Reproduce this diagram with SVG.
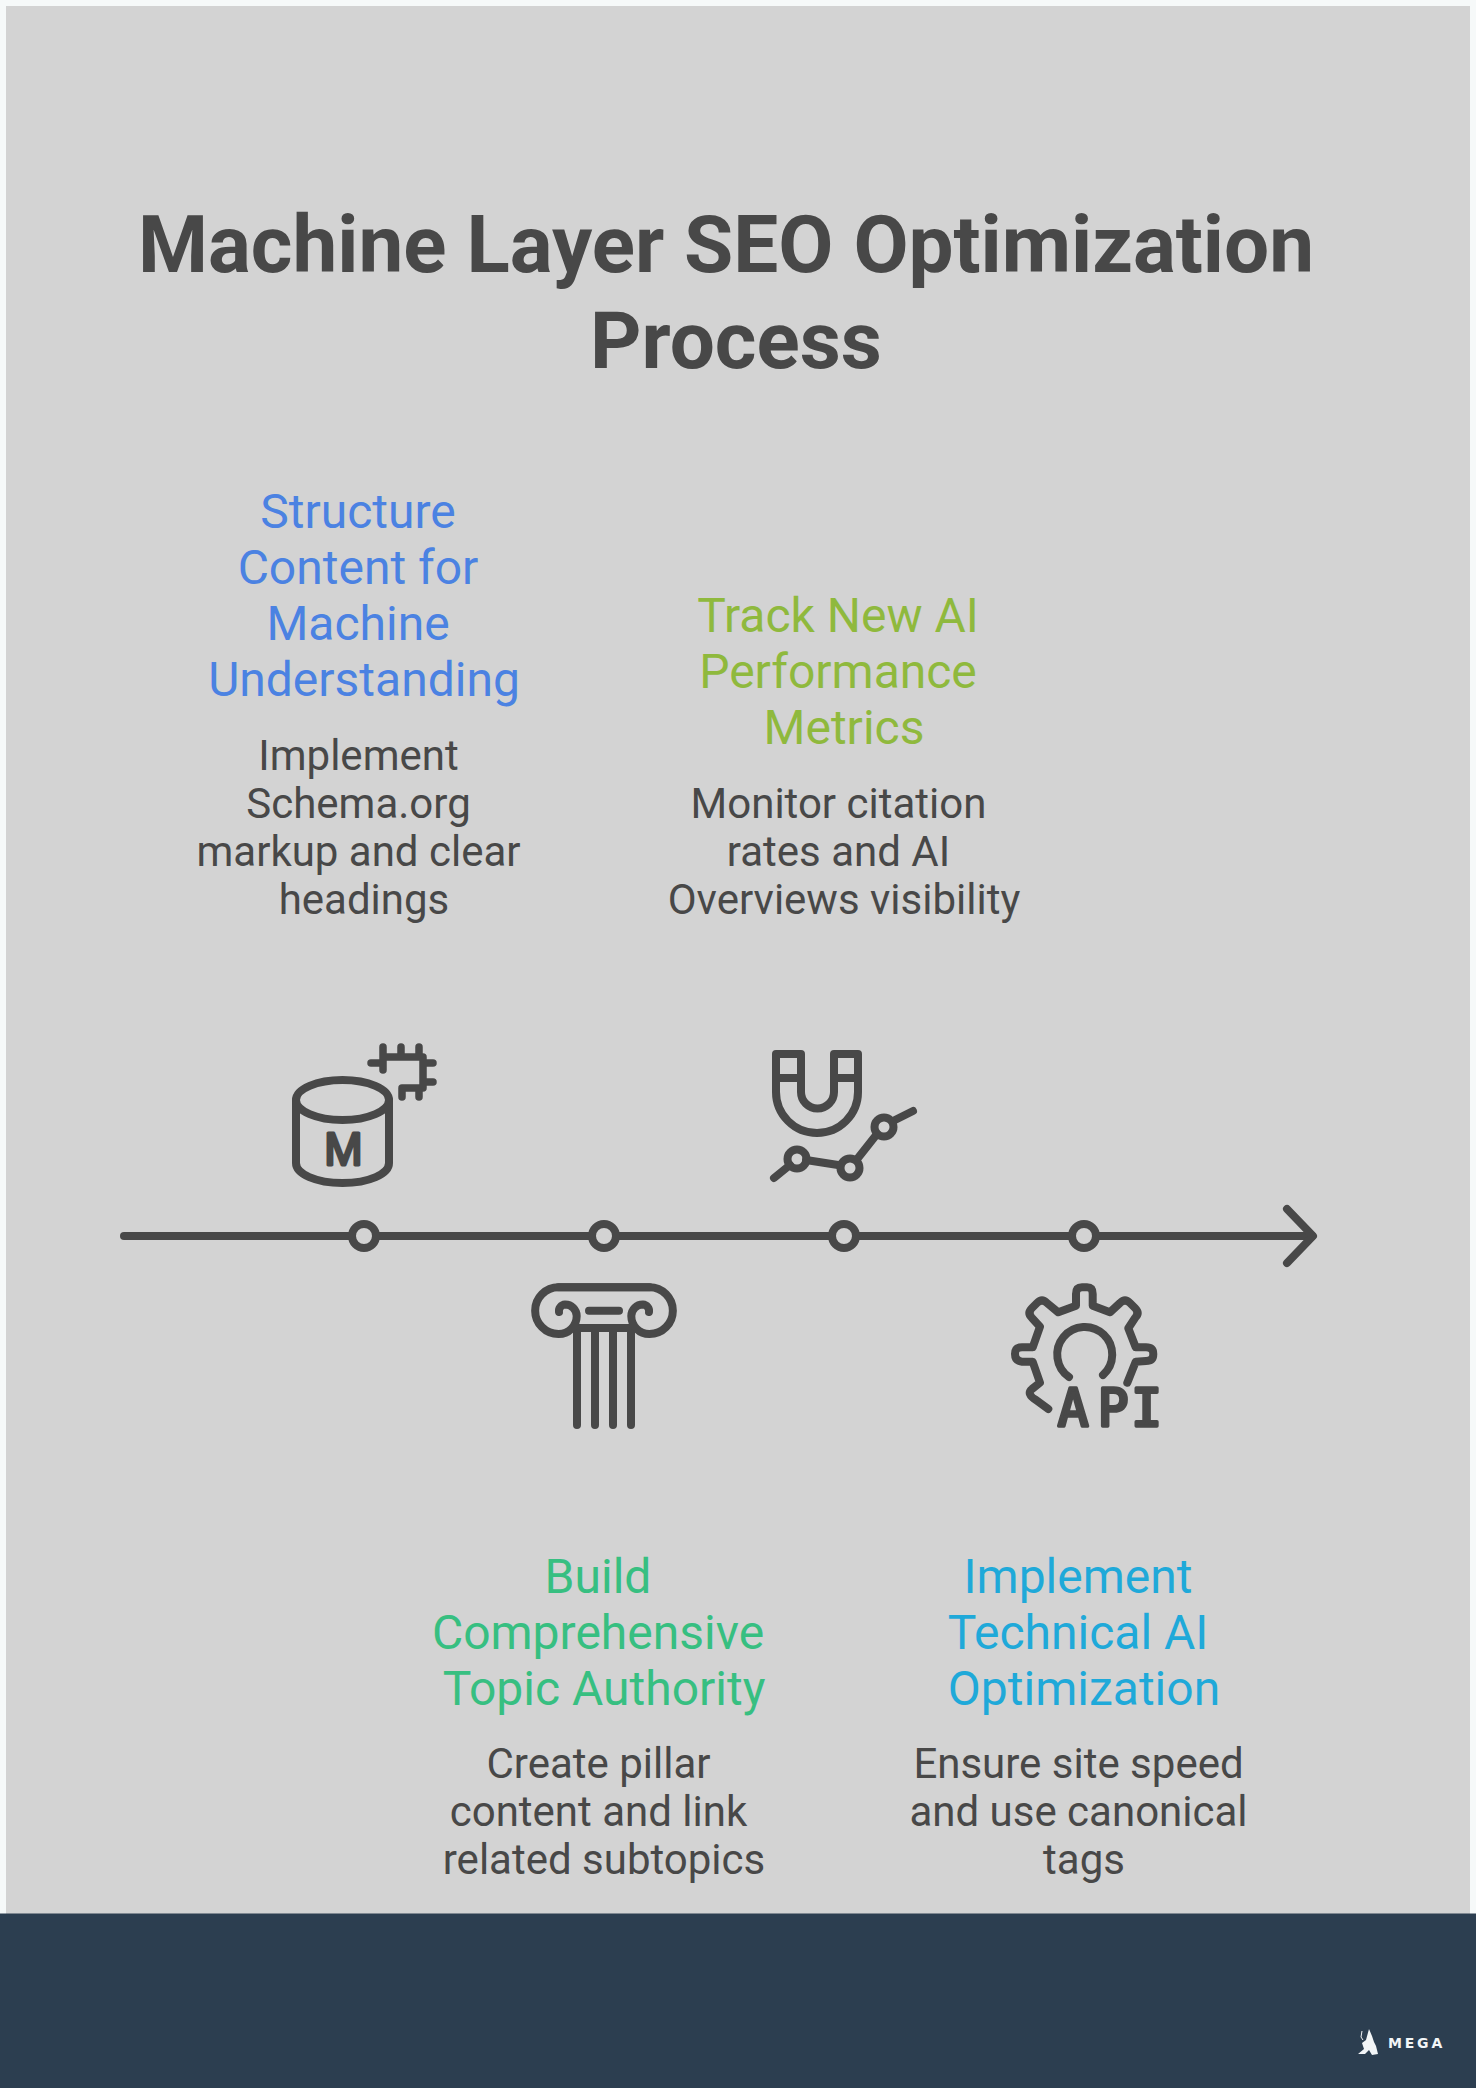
<svg xmlns="http://www.w3.org/2000/svg" width="1476" height="2088" viewBox="0 0 1476 2088">
<style>
.t{font-family:Roboto,"Liberation Sans",sans-serif;text-anchor:middle}
.title{font-size:80px;font-weight:700;fill:#484848}
.h{font-size:48px}
.d{font-size:42px;fill:#484848}
.s{fill:none;stroke:#484848;stroke-width:8;stroke-linecap:round;stroke-linejoin:round}
.s7{fill:none;stroke:#484848;stroke-width:7.500;stroke-linecap:round;stroke-linejoin:round}
.g{fill:#484848;stroke:#484848;stroke-linejoin:round;text-anchor:middle}
.dot{fill:#d3d3d3;stroke:#484848;stroke-width:8}
</style>
<rect width="1476" height="2088" fill="#f6f9f9"/>
<rect x="6" y="6" width="1464" height="1908" fill="#d3d3d3"/>
<rect id="footer" y="1913.500" width="1476" height="174.500" fill="#2c3e50"/>
<g id="title">
<text class="t title" x="726" y="272">Machine Layer SEO Optimization</text>
<text class="t title" x="736" y="368">Process</text>
</g>
<g id="connectors">
<path class="s" d="M124 1236H1312"/>
<path class="s" d="M1287 1209L1313 1236L1287 1263"/>
</g>
<g id="node-structure">
<g fill="#4b82e2">
<text class="t h" x="358" y="528">Structure</text>
<text class="t h" x="358" y="584">Content for</text>
<text class="t h" x="358" y="640">Machine</text>
<text class="t h" x="364" y="696">Understanding</text>
</g>
<text class="t d" x="358.500" y="770">Implement</text>
<text class="t d" x="358.500" y="818">Schema.org</text>
<text class="t d" x="358.500" y="866">markup and clear</text>
<text class="t d" x="364" y="914">headings</text>
<path class="s" d="M296 1100V1163C296 1174 316 1183 342.500 1183C369 1183 389 1174 389 1163V1100"/>
<ellipse class="s" cx="342.500" cy="1100" rx="46.500" ry="20"/>
<text class="g" x="343.500" y="1165" font-size="46" stroke-width="3" font-family="'Liberation Sans',sans-serif">M</text>
<path class="s7" d="M383 1047V1070M371 1063H383V1057H423V1088H402V1097M401 1047V1057M419 1047V1057M423 1063H433M423 1082H433M419 1088V1097"/>
<circle class="dot" cx="364" cy="1236" r="12"/>
</g>
<g id="node-authority">
<g fill="#37bf81">
<text class="t h" x="598" y="1593">Build</text>
<text class="t h" x="598" y="1649">Comprehensive</text>
<text class="t h" x="604" y="1705">Topic Authority</text>
</g>
<text class="t d" x="598.500" y="1778">Create pillar</text>
<text class="t d" x="598.500" y="1826">content and link</text>
<text class="t d" x="604" y="1874">related subtopics</text>
<path class="s" d="M577 1328V1425M595 1328V1425M613 1328V1425M631 1328V1425M577 1328H631M589 1310.700H619"/>
<path class="s" d="M649.500 1287.300H558.500A23.300 23.300 0 0 0 558.500 1334A18 18 0 0 0 576.700 1316A11.500 11.500 0 0 0 565 1304.500A6.500 6.500 0 0 0 559 1312"/>
<path class="s" d="M558.500 1287.300H649.500A23.300 23.300 0 0 1 649.500 1334A18 18 0 0 1 631.300 1316A11.500 11.500 0 0 1 643 1304.500A6.500 6.500 0 0 1 649 1312"/>
<circle class="dot" cx="604" cy="1236" r="12"/>
</g>
<g id="node-metrics">
<g fill="#8fb93d">
<text class="t h" x="838" y="632">Track New AI</text>
<text class="t h" x="838" y="688">Performance</text>
<text class="t h" x="844" y="744">Metrics</text>
</g>
<text class="t d" x="838.500" y="818">Monitor citation</text>
<text class="t d" x="838.500" y="866">rates and AI</text>
<text class="t d" x="844" y="914">Overviews visibility</text>
<path class="s" d="M776 1054H801V1092A16.500 16.500 0 0 0 834 1092V1054H858V1092A41 41 0 0 1 776 1092ZM776 1078H801M834 1078H858"/>
<path class="s" d="M774 1178L790 1165M806 1160L838 1165M858 1158L877 1134M895 1120L913 1111"/>
<circle class="s" cx="797" cy="1159" r="9.500"/>
<circle class="s" cx="850" cy="1168" r="9.500"/>
<circle class="s" cx="884" cy="1127" r="9.500"/>
<circle class="dot" cx="844" cy="1236" r="12"/>
</g>
<g id="node-technical">
<g fill="#1fa9d9">
<text class="t h" x="1078" y="1593">Implement</text>
<text class="t h" x="1078" y="1649">Technical AI</text>
<text class="t h" x="1084" y="1705">Optimization</text>
</g>
<text class="t d" x="1078.500" y="1778">Ensure site speed</text>
<text class="t d" x="1078.500" y="1826">and use canonical</text>
<text class="t d" x="1084" y="1874">tags</text>
<path class="s" d="M1048.300 1409L1036 1400Q1026 1394 1032 1389L1040 1382.700L1032.700 1361.700H1022Q1015 1361 1015 1354Q1015 1347.300 1022 1347.300H1032.700L1040 1326.700L1032 1318Q1027 1313 1032 1308L1037 1303Q1042 1298 1047 1303L1058.300 1312.300L1076 1305.700V1294Q1076 1287.300 1082 1287.300H1087Q1092.700 1287.300 1092.700 1294V1305.700L1110 1312.300L1120 1303Q1125 1298 1130 1303L1135 1308Q1140 1313 1135 1318L1128.300 1328.300L1135.700 1347.300H1146Q1153.300 1347.300 1153.300 1354Q1153.300 1361 1146 1361L1135.700 1361.700L1127.300 1382.700"/>
<path class="s" d="M1069 1377A27.500 27.500 0 1 1 1103 1375"/>
<text class="g" font-size="51" stroke-width="3.500" font-family="'DejaVu Sans Mono',monospace" x="1073 1113 1146.500" y="1425.500">API</text>
<circle class="dot" cx="1084" cy="1236" r="12"/>
</g>
<g id="logo">
<path fill="#f2f5f7" d="M1369 2029L1372 2036L1374 2042L1376 2046L1378 2054L1372 2055L1369 2050L1365 2054L1358 2054L1364 2049L1362 2043L1366 2040Z"/>
<path fill="none" stroke="#f2f5f7" stroke-width="1" d="M1362 2031L1361 2037L1363 2040"/>
<text x="1388" y="2048" font-family="'DejaVu Sans',sans-serif" font-weight="700" font-size="14" letter-spacing="2.800" fill="#f2f5f7">MEGA</text>
</g>
</svg>
